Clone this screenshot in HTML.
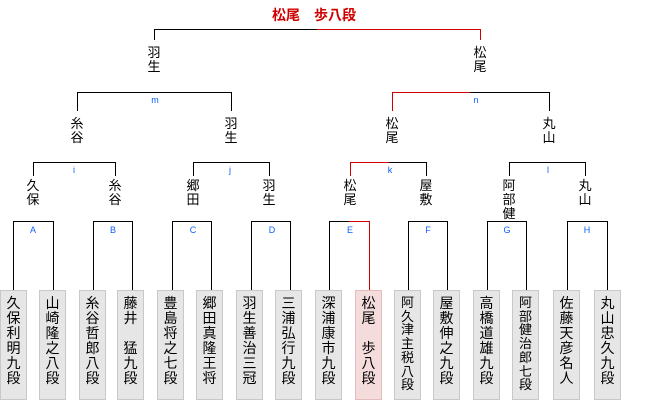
<!DOCTYPE html>
<html><head><meta charset="utf-8"><style>
body{margin:0;width:660px;height:400px;background:#fff;position:relative;overflow:hidden;font-family:"Liberation Sans","Noto Sans CJK JP",sans-serif;}
.b{position:absolute;border:1px solid #000;border-bottom:none;box-sizing:border-box;}
.h{position:absolute;height:0;border-top:1px solid #d00000;}
.v{position:absolute;width:0;border-left:1px solid #d00000;}
.n{position:absolute;width:20px;margin-left:-10px;text-align:center;font-size:13px;line-height:14px;color:#000;}
.l{position:absolute;width:20px;margin-left:-10px;text-align:center;font-size:9px;line-height:10px;color:#0a60ff;}
.x{position:absolute;top:290px;width:27px;height:110px;background:#e6e6e6;border:1px solid #c8c8c8;box-sizing:border-box;text-align:center;font-size:14px;line-height:15px;padding-top:5px;}
.x.s{font-size:13px;line-height:13.7px;}
.p{background:#f5dcdc;border-color:#e3bcbc;}
.t{position:absolute;left:272px;top:5px;font-size:14px;font-weight:bold;color:#d00000;white-space:pre;}
</style></head><body>
<div class="t">松尾　歩八段</div>

<div class="b" style="left:154px;top:29px;width:327px;height:11px"></div>
<div class="h" style="left:317px;top:29px;width:164px"></div>
<div class="v" style="left:480px;top:29px;height:11px"></div>

<div class="b" style="left:77px;top:92px;width:155px;height:19px"></div>
<div class="b" style="left:392px;top:92px;width:158px;height:19px"></div>
<div class="h" style="left:392px;top:92px;width:78px"></div>
<div class="v" style="left:392px;top:92px;height:19px"></div>
<div class="l" style="left:155px;top:95px">m</div>
<div class="l" style="left:476px;top:95px">n</div>

<div class="b" style="left:33px;top:162px;width:83px;height:14px"></div>
<div class="b" style="left:193px;top:162px;width:77px;height:14px"></div>
<div class="b" style="left:350px;top:162px;width:77px;height:14px"></div>
<div class="b" style="left:509px;top:162px;width:77px;height:14px"></div>
<div class="h" style="left:350px;top:162px;width:39px"></div>
<div class="v" style="left:350px;top:162px;height:14px"></div>
<div class="l" style="left:74px;top:165px">i</div>
<div class="l" style="left:230px;top:165px">j</div>
<div class="l" style="left:390px;top:165px">k</div>
<div class="l" style="left:548px;top:165px">l</div>

<div class="b" style="left:13px;top:221px;width:41px;height:69px"></div>
<div class="b" style="left:93px;top:221px;width:40px;height:69px"></div>
<div class="b" style="left:172px;top:221px;width:40px;height:69px"></div>
<div class="b" style="left:251px;top:221px;width:40px;height:69px"></div>
<div class="b" style="left:329px;top:221px;width:41px;height:69px"></div>
<div class="h" style="left:349px;top:221px;width:21px"></div>
<div class="v" style="left:369px;top:221px;height:69px"></div>
<div class="b" style="left:408px;top:221px;width:40px;height:69px"></div>
<div class="b" style="left:487px;top:221px;width:40px;height:69px"></div>
<div class="b" style="left:567px;top:221px;width:41px;height:69px"></div>
<div class="l" style="left:33px;top:225px">A</div>
<div class="l" style="left:113px;top:225px">B</div>
<div class="l" style="left:193px;top:225px">C</div>
<div class="l" style="left:272px;top:225px">D</div>
<div class="l" style="left:350px;top:225px">E</div>
<div class="l" style="left:428px;top:225px">F</div>
<div class="l" style="left:507px;top:225px">G</div>
<div class="l" style="left:587px;top:225px">H</div>

<div class="n" style="left:154px;top:46px">羽<br>生</div>
<div class="n" style="left:480px;top:46px">松<br>尾</div>
<div class="n" style="left:77px;top:117px">糸<br>谷</div>
<div class="n" style="left:231px;top:117px">羽<br>生</div>
<div class="n" style="left:392px;top:117px">松<br>尾</div>
<div class="n" style="left:549px;top:117px">丸<br>山</div>
<div class="n" style="left:33px;top:179px">久<br>保</div>
<div class="n" style="left:115px;top:179px">糸<br>谷</div>
<div class="n" style="left:193px;top:179px">郷<br>田</div>
<div class="n" style="left:269px;top:179px">羽<br>生</div>
<div class="n" style="left:350px;top:179px">松<br>尾</div>
<div class="n" style="left:426px;top:179px">屋<br>敷</div>
<div class="n" style="left:509px;top:179px">阿<br>部<br>健</div>
<div class="n" style="left:585px;top:179px">丸<br>山</div>

<div class="x" style="left:0px">久<br>保<br>利<br>明<br>九<br>段</div>
<div class="x" style="left:39px">山<br>崎<br>隆<br>之<br>八<br>段</div>
<div class="x" style="left:79px">糸<br>谷<br>哲<br>郎<br>八<br>段</div>
<div class="x" style="left:117px">藤<br>井<br>　<br>猛<br>九<br>段</div>
<div class="x" style="left:157px">豊<br>島<br>将<br>之<br>七<br>段</div>
<div class="x" style="left:196px">郷<br>田<br>真<br>隆<br>王<br>将</div>
<div class="x" style="left:236px">羽<br>生<br>善<br>治<br>三<br>冠</div>
<div class="x" style="left:275px">三<br>浦<br>弘<br>行<br>九<br>段</div>
<div class="x" style="left:315px">深<br>浦<br>康<br>市<br>九<br>段</div>
<div class="x p" style="left:355px">松<br>尾<br>　<br>歩<br>八<br>段</div>
<div class="x s" style="left:394px">阿<br>久<br>津<br>主<br>税<br>八<br>段</div>
<div class="x" style="left:433px">屋<br>敷<br>伸<br>之<br>九<br>段</div>
<div class="x" style="left:473px">高<br>橋<br>道<br>雄<br>九<br>段</div>
<div class="x s" style="left:512px">阿<br>部<br>健<br>治<br>郎<br>七<br>段</div>
<div class="x" style="left:553px">佐<br>藤<br>天<br>彦<br>名<br>人</div>
<div class="x" style="left:594px">丸<br>山<br>忠<br>久<br>九<br>段</div>
</body></html>
